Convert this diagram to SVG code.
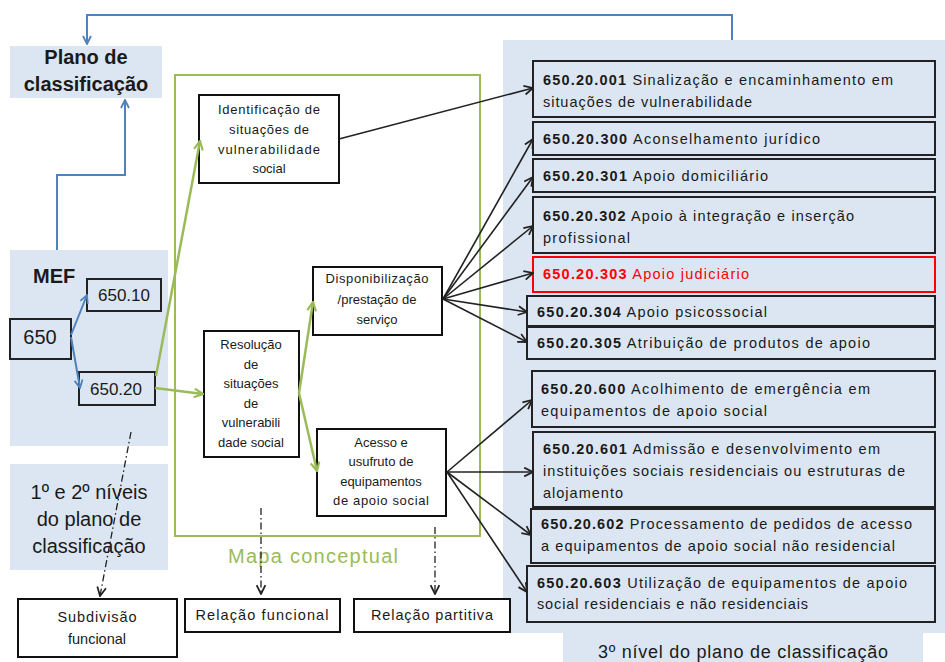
<svg xmlns="http://www.w3.org/2000/svg" width="945" height="662" viewBox="0 0 945 662">
<defs>
<style>
text{font-family:"Liberation Sans",Arial,sans-serif;fill:#1a1a1a}
.panel{fill:#dce6f2}
.wbox{fill:#fff;stroke:#111;stroke-width:2}
.rbox{fill:none;stroke:#222;stroke-width:2}
.sm{font-size:13px;text-anchor:middle}
.rt{font-size:14.5px}
.blue{fill:none;stroke:#4f81bd;stroke-width:2}
.green{fill:none;stroke:#9bbb59;stroke-width:2.5}
.blk{fill:none;stroke:#222;stroke-width:1.6}
.dd{fill:none;stroke:#222;stroke-width:1.3;stroke-dasharray:7 3 1.5 3}
</style>
<marker id="ab" viewBox="0 0 10 10" refX="9" refY="5" markerWidth="10" markerHeight="10" markerUnits="userSpaceOnUse" orient="auto"><path d="M1,1 L9,5 L1,9" fill="none" stroke="#4f81bd" stroke-width="1.8"/></marker>
<marker id="ag" viewBox="0 0 10 10" refX="9" refY="5" markerWidth="11" markerHeight="11" markerUnits="userSpaceOnUse" orient="auto"><path d="M1,1 L9,5 L1,9" fill="none" stroke="#9bbb59" stroke-width="2"/></marker>
<marker id="ak" viewBox="0 0 10 10" refX="9" refY="5" markerWidth="11" markerHeight="11" markerUnits="userSpaceOnUse" orient="auto"><path d="M1,1 L9,5 L1,9" fill="none" stroke="#222" stroke-width="1.6"/></marker>
</defs>

<g id="panels">
<rect class="panel" x="10" y="46" width="152" height="52"/>
<rect class="panel" x="10" y="250" width="158" height="196"/>
<rect class="panel" x="10" y="464" width="158" height="106"/>
<rect class="panel" x="503" y="40" width="442" height="593"/>
<rect class="panel" x="563" y="633" width="360" height="29"/>
<rect x="175" y="75" width="305" height="461" fill="none" stroke="#9bbb59" stroke-width="2"/>
</g>

<g id="plano">
<text x="86" y="64" font-size="20" font-weight="bold" text-anchor="middle">Plano de</text>
<text x="86" y="91" font-size="20" font-weight="bold" text-anchor="middle">classificação</text>
</g>
<g id="mef-label"><text x="33" y="283" font-size="20" font-weight="bold">MEF</text></g>
<g id="n650"><rect class="rbox" x="10" y="319" width="61" height="40"/><text x="40" y="344" font-size="20" text-anchor="middle">650</text></g>
<g id="n650-10"><rect class="rbox" x="87" y="279" width="74" height="32"/><text x="124" y="301" font-size="17" text-anchor="middle">650.10</text></g>
<g id="n650-20"><rect class="rbox" x="79" y="372" width="76" height="33"/><text x="116" y="395" font-size="17" text-anchor="middle">650.20</text></g>
<g id="niveis12">
<text x="89" y="499" font-size="20" text-anchor="middle">1º e 2º níveis</text>
<text x="89" y="526" font-size="20" text-anchor="middle">do plano de</text>
<text x="89" y="553" font-size="20" text-anchor="middle">classificação</text>
</g>

<g id="identificacao"><rect class="wbox" x="199" y="95" width="140" height="88"/>
<text class="sm" x="269" y="114" textLength="102" lengthAdjust="spacing">Identificação de</text>
<text class="sm" x="269" y="134" textLength="80" lengthAdjust="spacing">situações de</text>
<text class="sm" x="269" y="154" textLength="102" lengthAdjust="spacing">vulnerabilidade</text>
<text class="sm" x="269" y="173">social</text></g>

<g id="resolucao"><rect class="wbox" x="204" y="331" width="95" height="126"/>
<text class="sm" x="251" y="349">Resolução</text>
<text class="sm" x="251" y="369">de</text>
<text class="sm" x="251" y="388">situações</text>
<text class="sm" x="251" y="408">de</text>
<text class="sm" x="251" y="427">vulnerabili</text>
<text class="sm" x="251" y="447">dade social</text></g>

<g id="disponibilizacao"><rect class="wbox" x="313" y="267" width="129" height="68"/>
<text class="sm" x="377" y="283" textLength="103" lengthAdjust="spacing">Disponibilização</text>
<text class="sm" x="377" y="304">/prestação de</text>
<text class="sm" x="377" y="324">serviço</text></g>

<g id="acesso"><rect class="wbox" x="317" y="429" width="129" height="87"/>
<text class="sm" x="381" y="447">Acesso e</text>
<text class="sm" x="381" y="466">usufruto de</text>
<text class="sm" x="381" y="486">equipamentos</text>
<text class="sm" x="381" y="505" textLength="96" lengthAdjust="spacing">de apoio social</text></g>

<g id="mapa-label"><text x="313" y="563" font-size="20" style="fill:#9bbb59" text-anchor="middle" textLength="170" lengthAdjust="spacing">Mapa conceptual</text></g>

<g id="subdivisao"><rect class="wbox" x="18" y="599" width="159" height="58"/>
<text class="rt" x="97" y="622" text-anchor="middle" textLength="79" lengthAdjust="spacing">Subdivisão</text>
<text class="rt" x="97" y="644" text-anchor="middle">funcional</text></g>
<g id="rel-funcional"><rect class="wbox" x="185" y="599" width="155" height="33"/>
<text class="rt" x="262" y="620" text-anchor="middle" textLength="133" lengthAdjust="spacing">Relação funcional</text></g>
<g id="rel-partitiva"><rect class="wbox" x="354" y="599" width="156" height="33"/>
<text class="rt" x="432" y="620" text-anchor="middle" textLength="122" lengthAdjust="spacing">Relação partitiva</text></g>

<g id="c001"><rect class="rbox" x="533" y="61" width="402" height="56"/>
<text class="rt" x="543" y="85" textLength="350" lengthAdjust="spacing"><tspan font-weight="bold">650.20.001</tspan> Sinalização e encaminhamento em</text>
<text class="rt" x="543" y="107" textLength="209" lengthAdjust="spacing">situações de vulnerabilidade</text></g>
<g id="c300"><rect class="rbox" x="533" y="122" width="402" height="33"/>
<text class="rt" x="543" y="144" textLength="277" lengthAdjust="spacing"><tspan font-weight="bold">650.20.300</tspan> Aconselhamento jurídico</text></g>
<g id="c301"><rect class="rbox" x="533" y="159" width="402" height="33"/>
<text class="rt" x="543" y="181" textLength="225" lengthAdjust="spacing"><tspan font-weight="bold">650.20.301</tspan> Apoio domiciliário</text></g>
<g id="c302"><rect class="rbox" x="533" y="197" width="402" height="56"/>
<text class="rt" x="543" y="221" textLength="311" lengthAdjust="spacing"><tspan font-weight="bold">650.20.302</tspan> Apoio à integração e inserção</text>
<text class="rt" x="543" y="243" textLength="87" lengthAdjust="spacing">profissional</text></g>
<g id="c303"><rect x="533" y="257" width="402" height="35" fill="none" stroke="#ff0000" stroke-width="2"/>
<text class="rt" x="543" y="279" textLength="206" lengthAdjust="spacing" style="fill:#ff0000"><tspan font-weight="bold">650.20.303</tspan> Apoio judiciário</text></g>
<g id="c304"><rect class="rbox" x="527" y="296" width="408" height="30"/>
<text class="rt" x="537" y="317" textLength="230" lengthAdjust="spacing"><tspan font-weight="bold">650.20.304</tspan> Apoio psicossocial</text></g>
<g id="c305"><rect class="rbox" x="527" y="327" width="408" height="32"/>
<text class="rt" x="537" y="348" textLength="333" lengthAdjust="spacing"><tspan font-weight="bold">650.20.305</tspan> Atribuição de produtos de apoio</text></g>
<g id="c600"><rect class="rbox" x="532" y="371" width="403" height="56"/>
<text class="rt" x="541" y="394" textLength="329" lengthAdjust="spacing"><tspan font-weight="bold">650.20.600</tspan> Acolhimento de emergência em</text>
<text class="rt" x="541" y="416" textLength="226" lengthAdjust="spacing">equipamentos de apoio social</text></g>
<g id="c601"><rect class="rbox" x="533" y="432" width="402" height="75"/>
<text class="rt" x="543" y="454" textLength="337" lengthAdjust="spacing"><tspan font-weight="bold">650.20.601</tspan> Admissão e desenvolvimento em</text>
<text class="rt" x="543" y="476" textLength="362" lengthAdjust="spacing">instituições sociais residenciais ou estruturas de</text>
<text class="rt" x="543" y="498" textLength="80" lengthAdjust="spacing">alojamento</text></g>
<g id="c602"><rect class="rbox" x="531" y="509" width="404" height="54"/>
<text class="rt" x="541" y="529" textLength="371" lengthAdjust="spacing"><tspan font-weight="bold">650.20.602</tspan> Processamento de pedidos de acesso</text>
<text class="rt" x="541" y="551" textLength="354" lengthAdjust="spacing">a equipamentos de apoio social não residencial</text></g>
<g id="c603"><rect class="rbox" x="527" y="566" width="408" height="56"/>
<text class="rt" x="537" y="588" textLength="370" lengthAdjust="spacing"><tspan font-weight="bold">650.20.603</tspan> Utilização de equipamentos de apoio</text>
<text class="rt" x="537" y="609" textLength="271" lengthAdjust="spacing">social residenciais e não residenciais</text></g>
<g id="nivel3"><text x="743" y="658" font-size="18" text-anchor="middle" textLength="290" lengthAdjust="spacing">3º nível do plano de classificação</text></g>

<g id="connectors">
<path class="blue" d="M732,40 V15 H87 V44" marker-end="url(#ab)"/>
<path class="blue" d="M57,250 V175 H125 V100" marker-end="url(#ab)"/>
<path class="blue" d="M71,335 L87,295" marker-end="url(#ab)"/>
<path class="blue" d="M71,337 L80,388" marker-end="url(#ab)"/>
<path class="green" d="M156,376 L200,141" marker-end="url(#ag)"/>
<path class="green" d="M155,388 L203,394" marker-end="url(#ag)"/>
<path class="green" d="M299,393 L313,302" marker-end="url(#ag)"/>
<path class="green" d="M299,393 L317,471" marker-end="url(#ag)"/>
<path class="blk" d="M339,139 L533,88" marker-end="url(#ak)"/>
<path class="blk" d="M443,299 L533,139" marker-end="url(#ak)"/>
<path class="blk" d="M443,299 L533,177" marker-end="url(#ak)"/>
<path class="blk" d="M443,299 L533,226" marker-end="url(#ak)"/>
<path class="blk" d="M443,299 L533,273" marker-end="url(#ak)"/>
<path class="blk" d="M443,299 L527,312" marker-end="url(#ak)"/>
<path class="blk" d="M443,299 L527,342" marker-end="url(#ak)"/>
<path class="blk" d="M447,472 L532,400" marker-end="url(#ak)"/>
<path class="blk" d="M447,472 L533,472" marker-end="url(#ak)"/>
<path class="blk" d="M447,472 L531,535" marker-end="url(#ak)"/>
<path class="blk" d="M447,472 L527,592" marker-end="url(#ak)"/>
<path class="dd" d="M131,432 L100,596" marker-end="url(#ak)"/>
<path class="dd" d="M261,508 V594" marker-end="url(#ak)"/>
<path class="dd" d="M435,527 V594" marker-end="url(#ak)"/>
</g>
</svg>
